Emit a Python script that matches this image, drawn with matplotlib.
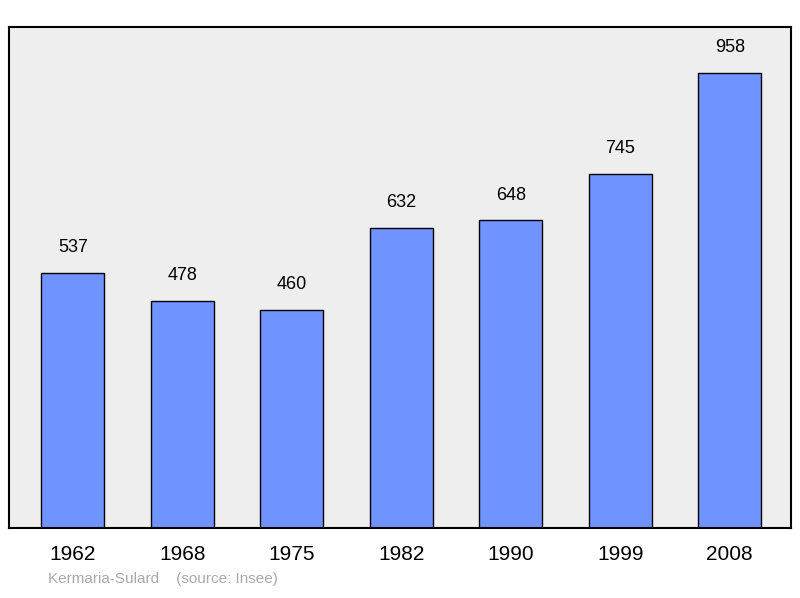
import matplotlib
matplotlib.use("Agg")
import matplotlib.pyplot as plt

plt.rcParams['font.family'] = ['Liberation Sans', 'DejaVu Sans']

years = ["1962", "1968", "1975", "1982", "1990", "1999", "2008"]
population = [537, 478, 460, 632, 648, 745, 958]

fig = plt.figure(figsize=(8, 5.98), dpi=100)
ax = fig.add_axes([0.011, 0.117, 0.9775, 0.838])
ax.set_facecolor("#eeeeee")

x = list(range(len(years)))
ax.bar(x, population, width=0.575, color="#7094ff", edgecolor="black", linewidth=1)
for xi, v in zip(x, population):
    ax.annotate(str(v), (xi, v), xytext=(0, 12), textcoords="offset points",
                ha="center", va="bottom", fontsize=13)

ax.set_xlim(-0.584, 6.557)
ax.set_ylim(0, 1055)
ax.set_yticks([])
ax.set_xticks(x)
ax.set_xticklabels(years, fontsize=15)
ax.tick_params(axis="x", length=0, pad=12)
for s in ax.spines.values():
    s.set_linewidth(1.5)

fig.text(0.06, 0.025, "Kermaria-Sulard    (source: Insee)", color="#aaaaaa", fontsize=11)

fig.savefig("out.png", dpi=100)
